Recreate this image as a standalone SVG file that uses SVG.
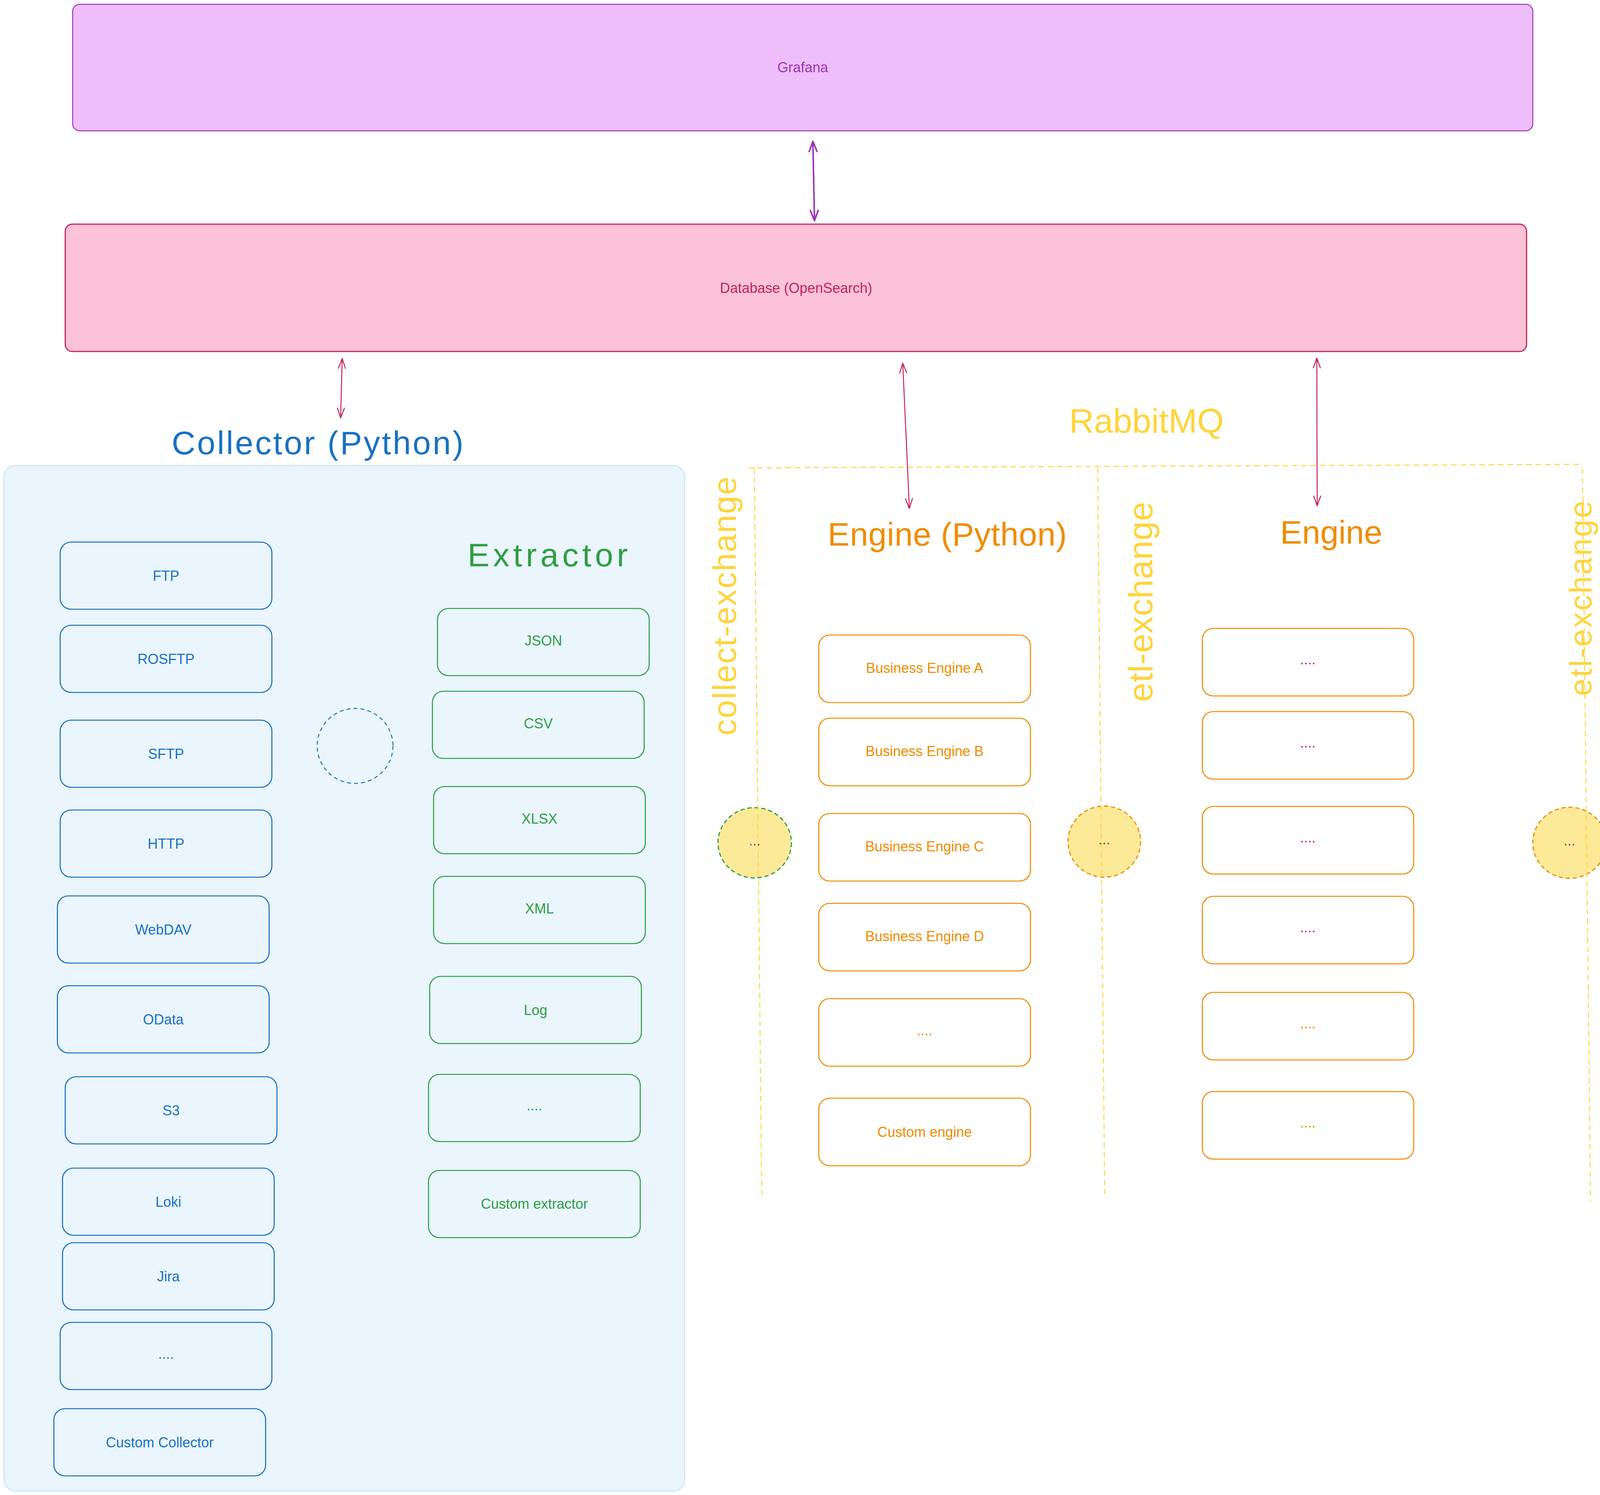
<svg xmlns="http://www.w3.org/2000/svg" width="4229" height="3828" viewBox="0 0 4229 3828">
<style>
  text { font-family: "Liberation Sans", Arial, sans-serif; text-anchor: middle; dominant-baseline: central; }
  .lbl { font-size: 36px; }
  .title { font-size: 84px; }
  .blue { fill: #1971c2; }
  .green { fill: #2f9e44; }
  .orange { fill: #f08c00; }
  .crimson { fill: #c2255c; }
  .purple { fill: #9c36b5; }
  .yellow { fill: #ffd43b; }
  .bx { fill: none; stroke-width: 2.7; }
  .bx-blue { stroke: #1971c2; }
  .bx-green { stroke: #2f9e44; }
  .bx-orange { stroke: #f08c00; }
  .bubble { fill: #fdea98; stroke-width: 3; stroke-dasharray: 11 7; }
  .lane { fill: none; stroke: #ffd43b; stroke-width: 2.5; stroke-dasharray: 14 10; }
  .conn-crimson { fill: none; stroke: #c2255c; stroke-width: 2.5; marker-start: url(#ah-crimson); marker-end: url(#ah-crimson); }
  .conn-purple { fill: none; stroke: #9c36b5; stroke-width: 4; marker-start: url(#ah-purple); marker-end: url(#ah-purple); }
</style>
<defs>
  <marker id="ah-crimson" markerUnits="userSpaceOnUse" markerWidth="40" markerHeight="30" viewBox="-32 -15 40 30" refX="0" refY="0" orient="auto-start-reverse">
    <path d="M-25,-9 L0,0 L-25,9" fill="none" stroke="#c2255c" stroke-width="2.5" stroke-linecap="round" stroke-linejoin="round"/>
  </marker>
  <marker id="ah-purple" markerUnits="userSpaceOnUse" markerWidth="40" markerHeight="30" viewBox="-32 -15 40 30" refX="0" refY="0" orient="auto-start-reverse">
    <path d="M-26,-10 L0,0 L-26,10" fill="none" stroke="#9c36b5" stroke-width="4" stroke-linecap="round" stroke-linejoin="round"/>
  </marker>
</defs>
<rect x="0" y="0" width="4229" height="3828" fill="#ffffff"/>

<g id="grafana">
  <rect x="186" y="11" width="3738" height="324" rx="18" fill="#eebefa" stroke="#9c36b5" stroke-width="2.5"/>
  <text class="lbl purple" x="2055" y="172">Grafana</text>
</g>
<g id="database">
  <rect x="167" y="574" width="3741" height="326" rx="18" fill="#fcc2d7" stroke="#c2255c" stroke-width="3"/>
  <text class="lbl crimson" x="2038" y="737">Database (OpenSearch)</text>
</g>

<g id="collector">
  <rect x="10" y="1192" width="1743" height="2626" rx="30" fill="#eaf5fd" stroke="#c9e2f6" stroke-width="2.5"/>
  <text class="title blue" x="813" y="1134" font-size="88" textLength="747">Collector (Python)</text>
  <ellipse id="collector-hub" cx="909" cy="1910" rx="97" ry="96" fill="none" stroke="#1971c2" stroke-width="2.5" stroke-dasharray="10 8"/>
</g>

<g id="collector-ftp"><rect class="bx bx-blue" x="154" y="1388" width="542" height="172" rx="28"/><text class="lbl blue" x="425" y="1474">FTP</text></g>
<g id="collector-rosftp"><rect class="bx bx-blue" x="154" y="1601" width="542" height="172" rx="28"/><text class="lbl blue" x="425" y="1687">ROSFTP</text></g>
<g id="collector-sftp"><rect class="bx bx-blue" x="154" y="1844" width="542" height="172" rx="28"/><text class="lbl blue" x="425" y="1930">SFTP</text></g>
<g id="collector-http"><rect class="bx bx-blue" x="154" y="2074" width="542" height="172" rx="28"/><text class="lbl blue" x="425" y="2160">HTTP</text></g>
<g id="collector-webdav"><rect class="bx bx-blue" x="147" y="2294" width="542" height="172" rx="28"/><text class="lbl blue" x="418" y="2380">WebDAV</text></g>
<g id="collector-odata"><rect class="bx bx-blue" x="147" y="2524" width="542" height="172" rx="28"/><text class="lbl blue" x="418" y="2610">OData</text></g>
<g id="collector-s3"><rect class="bx bx-blue" x="167" y="2757" width="542" height="172" rx="28"/><text class="lbl blue" x="438" y="2843">S3</text></g>
<g id="collector-loki"><rect class="bx bx-blue" x="160" y="2991" width="542" height="172" rx="28"/><text class="lbl blue" x="431" y="3077">Loki</text></g>
<g id="collector-jira"><rect class="bx bx-blue" x="160" y="3182" width="542" height="172" rx="28"/><text class="lbl blue" x="431" y="3268">Jira</text></g>
<g id="collector-more"><rect class="bx bx-blue" x="154" y="3386" width="542" height="172" rx="28"/><text class="lbl blue" x="425" y="3466">....</text></g>
<g id="collector-custom"><rect class="bx bx-blue" x="138" y="3607" width="542" height="172" rx="28"/><text class="lbl blue" x="409" y="3693">Custom Collector</text></g>

<g id="extractor-title"><text class="title green" x="1402" y="1421" textLength="410">Extractor</text></g>
<g id="extractor-json"><rect class="bx bx-green" x="1120" y="1558" width="542" height="172" rx="28"/><text class="lbl green" x="1391" y="1640">JSON</text></g>
<g id="extractor-csv"><rect class="bx bx-green" x="1107" y="1770" width="542" height="172" rx="28"/><text class="lbl green" x="1378" y="1852">CSV</text></g>
<g id="extractor-xlsx"><rect class="bx bx-green" x="1110" y="2014" width="542" height="172" rx="28"/><text class="lbl green" x="1381" y="2096">XLSX</text></g>
<g id="extractor-xml"><rect class="bx bx-green" x="1110" y="2244" width="542" height="172" rx="28"/><text class="lbl green" x="1381" y="2326">XML</text></g>
<g id="extractor-log"><rect class="bx bx-green" x="1100" y="2500" width="542" height="172" rx="28"/><text class="lbl green" x="1371" y="2586">Log</text></g>
<g id="extractor-more"><rect class="bx bx-green" x="1097" y="2751" width="542" height="172" rx="28"/><text class="lbl green" x="1368" y="2830">....</text></g>
<g id="extractor-custom"><rect class="bx bx-green" x="1097" y="2997" width="542" height="172" rx="28"/><text class="lbl green" x="1368" y="3082">Custom extractor</text></g>

<g id="rabbitmq-title"><text class="yellow" x="2935" y="1077" font-size="88">RabbitMQ</text></g>
<g id="collect-exchange-label"><text class="yellow" font-size="84" textLength="663" transform="translate(1884,1552) rotate(-90)" x="0" y="0" style="dominant-baseline:alphabetic">collect-exchange</text></g>
<g id="etl-exchange-label-1"><text class="yellow" font-size="88" textLength="512" transform="translate(2950,1541) rotate(-90)" x="0" y="0" style="dominant-baseline:alphabetic">etl-exchange</text></g>
<g id="etl-exchange-label-2"><text class="yellow" font-size="80" textLength="500" transform="translate(4074,1532) rotate(-90)" x="0" y="0" style="dominant-baseline:alphabetic">etl-exchange</text></g>

<g id="engine-python-title"><text class="title orange" x="2425" y="1368" font-size="80" textLength="612">Engine (Python)</text></g>
<g id="engine-a"><rect class="bx bx-orange" x="2096" y="1626" width="542" height="173" rx="28"/><text class="lbl orange" x="2367" y="1710">Business Engine A</text></g>
<g id="engine-b"><rect class="bx bx-orange" x="2096" y="1839" width="542" height="173" rx="28"/><text class="lbl orange" x="2367" y="1923">Business Engine B</text></g>
<g id="engine-c"><rect class="bx bx-orange" x="2096" y="2083" width="542" height="173" rx="28"/><text class="lbl orange" x="2367" y="2167">Business Engine C</text></g>
<g id="engine-d"><rect class="bx bx-orange" x="2096" y="2313" width="542" height="173" rx="28"/><text class="lbl orange" x="2367" y="2397">Business Engine D</text></g>
<g id="engine-more"><rect class="bx bx-orange" x="2096" y="2557" width="542" height="173" rx="28"/><text class="lbl orange" x="2367" y="2638">....</text></g>
<g id="engine-custom"><rect class="bx bx-orange" x="2096" y="2812" width="542" height="173" rx="28"/><text class="lbl orange" x="2367" y="2898">Custom engine</text></g>

<g id="engine-title"><text class="title orange" x="3408" y="1363" font-size="80">Engine</text></g>
<g id="engine2-1"><rect class="bx bx-orange" x="3078" y="1609" width="541" height="173" rx="28"/><text class="lbl crimson" x="3348" y="1688">....</text></g>
<g id="engine2-2"><rect class="bx bx-orange" x="3078" y="1822" width="541" height="173" rx="28"/><text class="lbl crimson" x="3348" y="1901">....</text></g>
<g id="engine2-3"><rect class="bx bx-orange" x="3078" y="2065" width="541" height="173" rx="28"/><text class="lbl crimson" x="3348" y="2144">....</text></g>
<g id="engine2-4"><rect class="bx bx-orange" x="3078" y="2295" width="541" height="173" rx="28"/><text class="lbl crimson" x="3348" y="2374">....</text></g>
<g id="engine2-5"><rect class="bx bx-orange" x="3078" y="2541" width="541" height="173" rx="28"/><text class="lbl orange" x="3348" y="2620">....</text></g>
<g id="engine2-6"><rect class="bx bx-orange" x="3078" y="2795" width="541" height="173" rx="28"/><text class="lbl orange" x="3348" y="2874">....</text></g>

<g id="queue-collect"><ellipse class="bubble" cx="1932" cy="2158" rx="94" ry="90" stroke="#2f9e44"/></g>
<g id="queue-etl-1"><ellipse class="bubble" cx="2827" cy="2155" rx="93" ry="91" stroke="#f08c00"/></g>
<g id="queue-etl-2"><ellipse class="bubble" cx="4018" cy="2158" rx="94" ry="91" stroke="#f08c00"/></g>

<g id="rabbitmq-lanes">
  <path class="lane" d="M1915,1198 L4046,1189"/>
  <path class="lane" d="M1931,1198 L1950,3062"/>
  <path class="lane" d="M2810,1197 L2828,3057"/>
  <path class="lane" d="M4051,1200 L4072,3077"/>
</g>

<g id="queue-labels">
  <text class="lbl purple" x="1932" y="2152">...</text>
  <text class="lbl crimson" x="2827" y="2149">...</text>
  <text class="lbl crimson" x="4018" y="2152">...</text>
</g>

<g id="connectors">
  <path class="conn-purple" d="M2081,362 L2085,565"/>
  <path class="conn-crimson" d="M876,918 L872,1070"/>
  <path class="conn-crimson" d="M2311,930 L2328,1302"/>
  <path class="conn-crimson" d="M3371,917 L3372,1295"/>
</g>
</svg>
